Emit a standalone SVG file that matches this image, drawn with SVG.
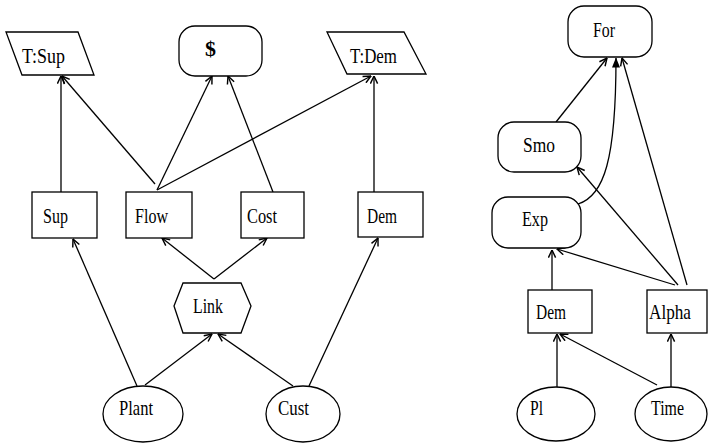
<svg xmlns="http://www.w3.org/2000/svg" width="708" height="445" viewBox="0 0 708 445">
<defs>
<marker id="arr" viewBox="0 0 10 10" refX="9.5" refY="5" markerWidth="9" markerHeight="9" markerUnits="userSpaceOnUse" orient="auto">
<path d="M1,1 L9.5,5 L1,9" fill="none" stroke="#000" stroke-width="1.6"/>
</marker>
<marker id="farr" viewBox="0 0 10 10" refX="9.5" refY="5" markerWidth="10" markerHeight="10" markerUnits="userSpaceOnUse" orient="auto">
<path d="M0,1 L10,5 L0,9 Z" fill="#000"/>
</marker>
<style>
.n{fill:#fff;stroke:#000;stroke-width:1.3}
.t{font-family:"Liberation Serif","Times New Roman",serif;font-size:22px;fill:#000}
.e{fill:none;stroke:#000;stroke-width:1.3;marker-end:url(#arr)}
</style>
</defs>
<rect width="708" height="445" fill="#fff"/>
<g id="connectors">
<line class="e" x1="61" y1="192" x2="61" y2="76"/>
<line class="e" x1="155" y1="184" x2="62" y2="76"/>
<line class="e" x1="157" y1="190" x2="212" y2="76"/>
<line class="e" x1="273" y1="192" x2="228" y2="76"/>
<line class="e" x1="157" y1="190" x2="371" y2="76"/>
<line class="e" x1="374" y1="192" x2="374" y2="76"/>
<line class="e" x1="214" y1="279" x2="162" y2="238"/>
<line class="e" x1="214" y1="279" x2="267" y2="238"/>
<line class="e" x1="137" y1="386" x2="73" y2="239"/>
<line class="e" x1="145" y1="385" x2="212" y2="334"/>
<line class="e" x1="293" y1="386" x2="218" y2="334"/>
<line class="e" x1="309" y1="386" x2="378" y2="238"/>
<line class="e" x1="556" y1="122" x2="607" y2="58"/>
<path d="M578,204 C604,196 616,160 616,58" fill="none" stroke="#000" stroke-width="1.3" marker-end="url(#farr)"/>
<line class="e" x1="687" y1="285" x2="622" y2="58"/>
<line class="e" x1="678" y1="285" x2="577" y2="167"/>
<line class="e" x1="675" y1="285" x2="557" y2="249"/>
<line class="e" x1="552" y1="290" x2="552" y2="250"/>
<line class="e" x1="557" y1="387" x2="557" y2="334"/>
<line class="e" x1="657" y1="385" x2="560" y2="334"/>
<line class="e" x1="671" y1="387" x2="671" y2="334"/>
</g>
<g id="TSup"><polygon class="n" points="6,32 78,32 94,75 22,75"/><text class="t" x="22" y="63" textLength="43" lengthAdjust="spacingAndGlyphs">T:Sup</text></g>
<g id="Dollar"><rect class="n" x="179" y="26" width="83" height="50" rx="16"/><text class="t" x="205" y="56" font-weight="bold" font-size="19">$</text></g>
<g id="TDem"><polygon class="n" points="327,32 404,32 426,74 347,74"/><text class="t" x="350" y="63" textLength="47" lengthAdjust="spacingAndGlyphs">T:Dem</text></g>
<g id="Sup"><rect class="n" x="32" y="192" width="65" height="46"/><text class="t" x="43" y="223" textLength="25" lengthAdjust="spacingAndGlyphs">Sup</text></g>
<g id="Flow"><rect class="n" x="126" y="192" width="66" height="46"/><text class="t" x="135" y="223" textLength="33" lengthAdjust="spacingAndGlyphs">Flow</text></g>
<g id="Cost"><rect class="n" x="241" y="192" width="63" height="46"/><text class="t" x="247" y="223" textLength="30" lengthAdjust="spacingAndGlyphs">Cost</text></g>
<g id="Dem"><rect class="n" x="358" y="192" width="65" height="45"/><text class="t" x="367" y="223" textLength="30" lengthAdjust="spacingAndGlyphs">Dem</text></g>
<g id="Link"><polygon class="n" points="174,306 183,283 241,283 251,306 241,333 183,333"/><text class="t" x="193" y="313" textLength="30" lengthAdjust="spacingAndGlyphs">Link</text></g>
<g id="Plant"><ellipse class="n" cx="143" cy="414" rx="40" ry="28"/><text class="t" x="119" y="415" textLength="34" lengthAdjust="spacingAndGlyphs">Plant</text></g>
<g id="Cust"><ellipse class="n" cx="303" cy="414" rx="37" ry="28"/><text class="t" x="278" y="415" textLength="31" lengthAdjust="spacingAndGlyphs">Cust</text></g>
<g id="For"><rect class="n" x="568" y="6" width="84" height="51" rx="16"/><text class="t" x="593" y="37" textLength="22" lengthAdjust="spacingAndGlyphs">For</text></g>
<g id="Smo"><rect class="n" x="498" y="122" width="83" height="50" rx="16"/><text class="t" x="523" y="152" textLength="32" lengthAdjust="spacingAndGlyphs">Smo</text></g>
<g id="Exp"><rect class="n" x="492" y="197" width="89" height="51" rx="16"/><text class="t" x="522" y="226" textLength="26" lengthAdjust="spacingAndGlyphs">Exp</text></g>
<g id="Dem2"><rect class="n" x="528" y="290" width="64" height="43"/><text class="t" x="536" y="319" textLength="30" lengthAdjust="spacingAndGlyphs">Dem</text></g>
<g id="Alpha"><rect class="n" x="647" y="290" width="60" height="43"/><text class="t" x="649" y="319" textLength="42" lengthAdjust="spacingAndGlyphs">Alpha</text></g>
<g id="Pl"><ellipse class="n" cx="556" cy="414" rx="39" ry="27"/><text class="t" x="530" y="415" textLength="13" lengthAdjust="spacingAndGlyphs">Pl</text></g>
<g id="Time"><ellipse class="n" cx="671" cy="414" rx="36" ry="27"/><text class="t" x="651" y="415" textLength="33" lengthAdjust="spacingAndGlyphs">Time</text></g>
</svg>
